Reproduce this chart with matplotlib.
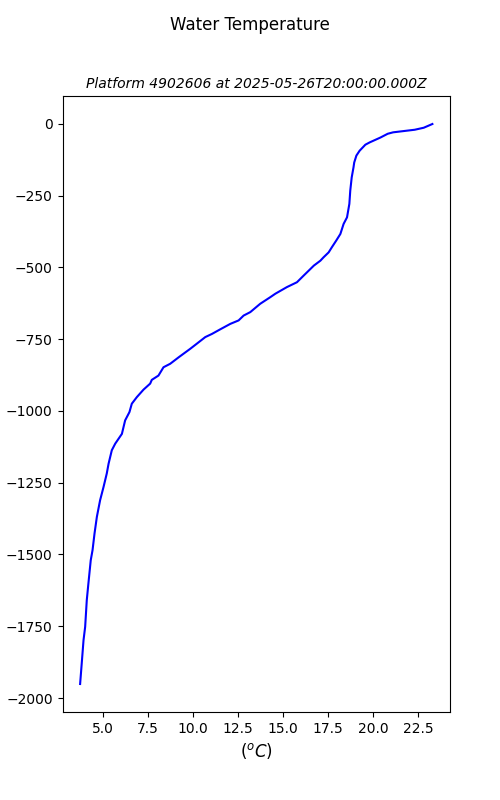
import numpy as np
import matplotlib.pyplot as plt

# profile (temperature in degC, depth in m)
temp = [23.28, 22.8, 22.3, 21.1, 20.8, 20.4, 19.8, 19.56, 19.24, 19.06,
        18.94, 18.9, 18.8, 18.72, 18.67, 18.54, 18.35, 18.17, 17.94, 17.7,
        17.52, 17.24, 17.06, 16.7, 16.13, 15.76, 15.2, 14.56, 14.28, 13.72,
        13.17, 12.8, 12.52, 12.06, 11.5, 11.04, 10.67, 10.2, 9.83, 9.46,
        9.2, 8.72, 8.35, 8.07, 7.7, 7.61, 7.24, 6.87, 6.59, 6.46,
        6.22, 6.04, 5.67, 5.48, 5.3, 5.2, 5.02, 4.83, 4.65, 4.52,
        4.41, 4.31, 4.18, 4.09, 4.0, 3.91, 3.81, 3.72]
depth = [-1, -14, -21, -30, -35, -48, -65, -73, -94, -111,
         -135, -152, -187, -233, -279, -326, -349, -384, -407, -430,
         -448, -465, -477, -494, -529, -552, -569, -592, -604, -627,
         -656, -668, -685, -697, -716, -732, -743, -766, -784, -801,
         -813, -836, -848, -877, -892, -905, -926, -952, -975, -1004,
         -1033, -1080, -1114, -1137, -1184, -1218, -1265, -1311, -1369, -1427,
         -1485, -1520, -1601, -1659, -1752, -1798, -1879, -1951]

fig = plt.figure(figsize=(5, 8), dpi=100)
ax = fig.add_subplot(111)
ax.plot(temp, depth, color='blue', linewidth=1.5)

fig.suptitle('Water Temperature')
ax.set_title('Platform 4902606 at 2025-05-26T20:00:00.000Z', fontsize=10, style='italic')
ax.set_xlabel('($^oC$)', fontsize=12)
ax.set_ylabel('depth (m)')

fig.savefig('out.png')
